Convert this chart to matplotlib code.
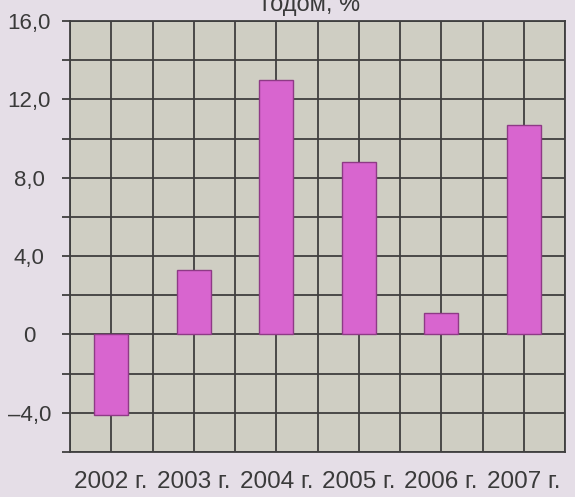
import matplotlib
matplotlib.use('Agg')
import matplotlib.pyplot as plt
import numpy as np

# Data
years = ['2002 г.', '2003 г.', '2004 г.', '2005 г.', '2006 г.', '2007 г.']
growth = [-4.1, 3.3, 13.0, 8.8, 1.1, 10.7]
y_ticks = [-4, 0, 4, 8, 12, 16]
y_labels = ['\u20134,0', '0', '4,0', '8,0', '12,0', '16,0']

plt.rcParams['font.family'] = ['Liberation Sans', 'DejaVu Sans']

fig = plt.figure(figsize=(5.75, 4.97), dpi=100)
fig.patch.set_facecolor('#e5dee7')
ax = fig.add_axes([70 / 575, 45 / 497, 495 / 575, 431 / 497])
ax.set_facecolor('#cfcec3')

x = np.arange(len(years))
ax.bar(x, growth, width=0.41, color='#d865cf', edgecolor='#8e3a86', linewidth=1.0, zorder=3)

ax.set_xlim(-0.5, len(years) - 0.5)
ax.set_ylim(-6, 16)

# grid: horizontal every 2, vertical at category centres and boundaries
grid_kw = dict(color='#3f3f3f', linewidth=1.3, zorder=1)
for yv in np.arange(-6, 17, 2):
    ax.axhline(yv, **grid_kw)
for xv in np.arange(-0.5, len(years), 0.5):
    ax.axvline(xv, **grid_kw)

txt = '#3a3a3a'
ax.set_yticks(np.arange(-6, 17, 2), minor=True)
ax.set_yticks(y_ticks)
ax.set_yticklabels(y_labels, fontsize=16, color=txt, ha='center')
ax.tick_params(axis='y', which='both', length=5.8, width=1.3, color='#3f3f3f', pad=23.5)

ax.set_xticks(x)
ax.set_xticklabels(years, fontsize=17.5, color=txt)
ax.tick_params(axis='x', length=0, pad=14)

for s in ax.spines.values():
    s.set_color('#3f3f3f')
    s.set_linewidth(1.3)

# title is cut off at the top of the picture
fig.text(311 / 575, 1 - 10.5 / 497, 'годом, %', ha='center', va='baseline',
         fontsize=17, color=txt)

fig.savefig('out.png', dpi=100, facecolor=fig.get_facecolor())
